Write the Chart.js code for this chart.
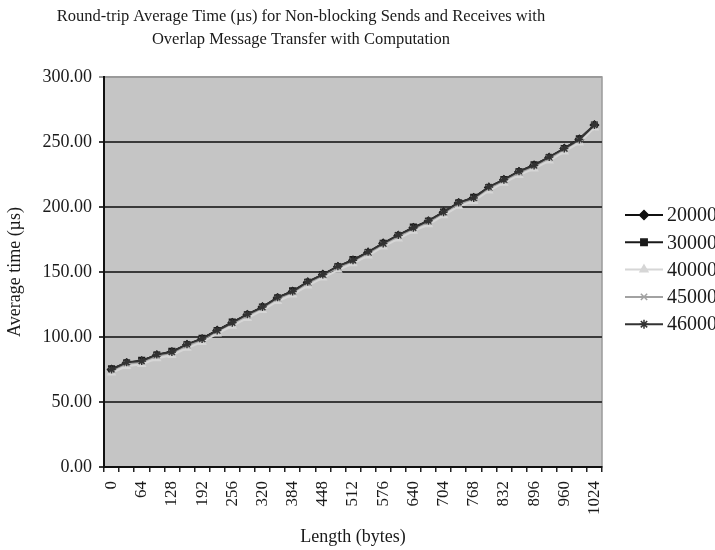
<!DOCTYPE html>
<html>
<head>
<meta charset="utf-8">
<script src="https://cdn.jsdelivr.net/npm/chart.js@4.4.1/dist/chart.umd.min.js"></script>
<style>
  body { margin: 0; background: #fff; }
  #wrap { width: 715px; height: 550px; }
</style>
</head>
<body>
<div id="wrap"><canvas id="grafico"></canvas></div>
<script>
// message lengths (bytes), one category every 32
const lengths = ['0', '32', '64', '96', '128', '160', '192', '224', '256', '288', '320',
  '352', '384', '416', '448', '480', '512', '544', '576', '608', '640', '672', '704',
  '736', '768', '800', '832', '864', '896', '928', '960', '992', '1024'];

// average round-trip time (µs) per series
const t20000 = [75, 80, 81.5, 86, 88.5, 94, 98.5, 105, 111, 117, 123, 130, 135, 142, 148, 154, 159,
  165, 172, 178, 184, 189, 196, 203, 207, 215, 221, 227, 232, 238, 245, 252, 263];
const t30000 = [75.5, 80, 82, 86, 89, 94, 99, 105, 111.5, 117, 123, 130, 135.5, 142, 148, 154, 159.5,
  165, 172, 178, 184.5, 189, 196, 203, 207.5, 215, 221, 227, 232.5, 238, 245, 252.5, 263];
const t40000 = [72.5, 77.5, 79, 83.5, 86, 91.5, 96, 102.5, 108.5, 114.5, 120.5, 127.5, 132.5, 139.5, 145.5, 151.5, 156.5,
  162.5, 169.5, 175.5, 181.5, 186.5, 193.5, 200.5, 204.5, 212.5, 218.5, 224.5, 229.5, 235.5, 242.5, 249.5, 261];
const t45000 = [74.5, 79.5, 81, 85.5, 88, 93.5, 98, 104.5, 110.5, 116.5, 122.5, 129.5, 134.5, 141.5, 147.5, 153.5, 158.5,
  164.5, 171.5, 177.5, 183.5, 188.5, 195.5, 202.5, 206.5, 214.5, 220.5, 226.5, 231.5, 237.5, 244.5, 251.5, 263];
const t46000 = [75, 80.5, 81.5, 86.5, 88.5, 94.5, 98.5, 105, 111, 117.5, 123, 130.5, 135, 142.5, 148, 154.5, 159,
  165.5, 172, 178.5, 184, 189.5, 196, 203.5, 207, 215.5, 221, 227.5, 232, 238.5, 245, 252, 263];

const serieNomi = ['20000', '30000', '40000', '45000', '46000'];
const serieDati = [t20000, t30000, t40000, t45000, t46000];
const serieColori = ['#111111', '#1a1a1a', '#d6d6d6', '#a2a2a2', '#333333'];
const serieMarker = ['rectRot', 'rect', 'triangle', 'crossRot', 'star'];

const yTicks = [0, 50, 100, 150, 200, 250, 300];

const FONT = "'Liberation Serif', 'Times New Roman', serif";

// sfondo grigio dell'area del grafico + bordo
const plotBg = {
  id: 'plotBg',
  beforeDraw(chart) {
    const { ctx, chartArea: a } = chart;
    ctx.save();
    ctx.fillStyle = '#c5c5c5';
    ctx.fillRect(a.left, a.top, a.right - a.left, a.bottom - a.top);
    ctx.strokeStyle = '#9a9a9a';
    ctx.lineWidth = 1.5;
    ctx.strokeRect(a.left, a.top, a.right - a.left, a.bottom - a.top);
    ctx.restore();
  }
};

// legenda stile Excel: linea + marker
const legendaExcel = {
  id: 'legendaExcel',
  afterDraw(chart) {
    const ctx = chart.ctx;
    ctx.save();
    chart.data.datasets.forEach((ds, i) => {
      const y = 215 + i * 27.3;
      ctx.strokeStyle = ds.borderColor;
      ctx.lineWidth = 2;
      ctx.beginPath();
      ctx.moveTo(625, y);
      ctx.lineTo(663, y);
      ctx.stroke();
      ctx.fillStyle = ds.pointBackgroundColor;
      ctx.strokeStyle = ds.pointBorderColor;
      ctx.lineWidth = 1.5;
      Chart.helpers.drawPoint(ctx, { pointStyle: ds.pointStyle, radius: 4.5, rotation: 0, borderWidth: 1.5 }, 644, y);
      ctx.fillStyle = '#1a1a1a';
      ctx.font = '20px ' + FONT;
      ctx.textAlign = 'left';
      ctx.textBaseline = 'middle';
      ctx.fillText(ds.label, 667, y + 1);
    });
    ctx.restore();
  }
};

const datasets = serieNomi.map((nome, i) => ({
  label: nome,
  data: serieDati[i],
  borderColor: serieColori[i],
  backgroundColor: serieColori[i],
  pointBackgroundColor: serieColori[i],
  pointBorderColor: serieColori[i],
  pointStyle: serieMarker[i],
  pointRadius: 4,
  pointBorderWidth: 1.5,
  borderWidth: 2,
  order: serieNomi.length - 1 - i
}));

new Chart(document.getElementById('grafico'), {
  type: 'line',
  data: { labels: lengths, datasets: datasets },
  plugins: [plotBg, legendaExcel],
  options: {
    responsive: true,
    maintainAspectRatio: false,
    animation: false,
    layout: { padding: { right: 113, left: 0, top: 0, bottom: 0 } },
    plugins: {
      legend: { display: false },
      tooltip: { enabled: false },
      title: {
        display: true,
        text: ['Round-trip Average Time (µs) for Non-blocking Sends and Receives with',
               'Overlap Message Transfer with Computation'],
        color: '#1a1a1a',
        font: { family: FONT, size: 16.5, weight: 'normal', lineHeight: 1.4 },
        padding: { top: 5.5, bottom: 25.3 }
      }
    },
    scales: {
      x: {
        offset: true,
        grid: { display: true, drawOnChartArea: false, drawTicks: true, tickLength: 5, offset: true, color: '#222', lineWidth: 1.5 },
        border: { display: true, color: '#111', width: 2 },
        ticks: {
          autoSkip: false,
          minRotation: 90,
          maxRotation: 90,
          padding: 9,
          color: '#1a1a1a',
          font: { family: FONT, size: 17 },
          callback: (v, i) => (i % 2 === 0 ? lengths[i] : '')
        },
        title: {
          display: true,
          text: 'Length (bytes)',
          color: '#1a1a1a',
          font: { family: FONT, size: 18 },
          padding: { top: 0, bottom: 2.2 }
        },
        afterFit: (s) => { s.height = 83; }
      },
      y: {
        min: 0,
        max: 300,
        grid: {
          color: (c) => (c.tick && c.tick.value === 300 ? '#9a9a9a' : '#3a3a3a'),
          lineWidth: 2,
          tickLength: 5,
          drawTicks: true
        },
        border: { display: true, color: '#111', width: 2 },
        afterBuildTicks: (s) => { s.ticks = yTicks.map(v => ({ value: v })); },
        ticks: {
          padding: 7,
          color: '#1a1a1a',
          font: { family: FONT, size: 18 },
          callback: (v) => Number(v).toFixed(2)
        },
        title: {
          display: true,
          text: 'Average time (µs)',
          color: '#1a1a1a',
          font: { family: FONT, size: 18 },
          padding: { top: 4, bottom: 0 }
        },
        afterFit: (s) => { s.width = 104; }
      }
    }
  }
});
</script>
</body>
</html>
